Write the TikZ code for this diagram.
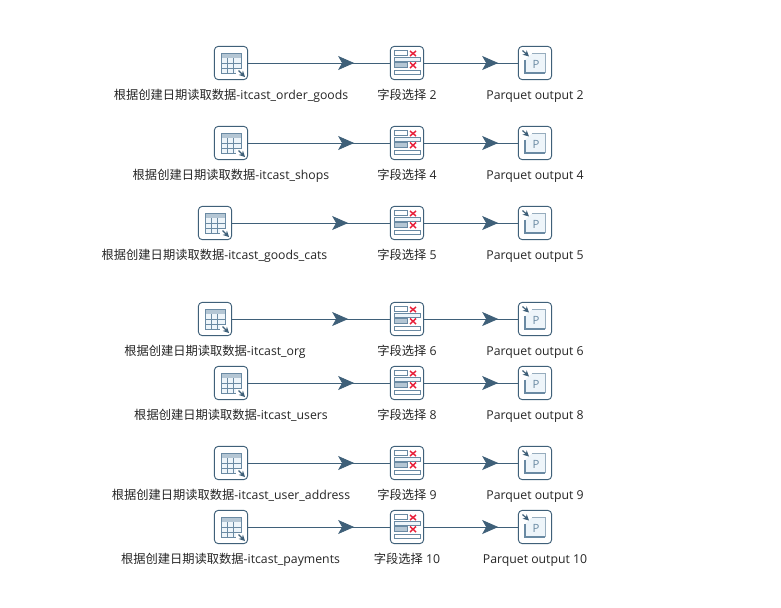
\documentclass[tikz,border=0pt]{standalone}
\usepackage{fontspec}
\setmainfont{Open Sans}
\newfontfamily\cjk{Noto Sans CJK SC}
\usetikzlibrary{arrows.meta,decorations.markings}
\definecolor{kblue}{HTML}{3F6079}
\definecolor{kline}{HTML}{6A8AA3}
\definecolor{kband}{HTML}{B4C6D4}
\definecolor{kfill}{HTML}{EEF5FA}
\definecolor{kred}{HTML}{E8203A}
\tikzset{
  x=0.75pt,y=-0.75pt,
  iconbox/.style={draw=kblue,line width=0.7pt,rounded corners=3pt,fill=white,minimum size=25pt,inner sep=0pt,outer sep=0pt},
  steplabel/.style={font=\fontsize{9.2pt}{11pt}\selectfont,text=black!85,inner sep=0pt,anchor=base},
  hop/.style={draw=kblue,line width=0.6pt,postaction={decorate},decoration={markings,mark=at position #1 with {\arrow{Stealth[length=12pt,width=10.5pt,inset=3pt,color=kblue]}}}},
  iconline/.style={draw=kline,line width=0.75pt}
}
\newcommand{\srcicon}[1]{%
  \begin{scope}[shift={(#1)}]
    \fill[kfill] (-10,-10) rectangle (10,10);
    \fill[kband] (-10,-10) rectangle (10,-5);
    \draw[iconline,line width=0.5pt] (-10,0) -- (10,0) (-10,5) -- (10,5) (-4,-5) -- (-4,10) (2,-5) -- (2,10);
    \draw[iconline] (-10,-10) rectangle (10,10);
    \fill[white] (5,6) rectangle (14.5,14.5);
    \draw[kblue,line width=0.9pt,-{Stealth[length=4.5pt,width=4.5pt]}] (7.5,7.5) -- (14,14);
  \end{scope}}
\newcommand{\selicon}[1]{%
  \begin{scope}[shift={(#1)}]
    \draw[iconline,fill=white] (-13,-12.5) rectangle (0,-8);
    \draw[iconline,fill=kfill] (-13,-5.5) rectangle (13,-1.5);
    \draw[iconline,fill=kband] (-13,-0.5) rectangle (0,4);
    \draw[iconline,fill=white] (-13,7.5) rectangle (13,11.5);
    \draw[kred,line width=1.1pt] (3,-12) -- (9,-7) (9,-12) -- (3,-7) (3,-0.5) -- (9,5) (9,-0.5) -- (3,5);
  \end{scope}}
\newcommand{\outicon}[1]{%
  \begin{scope}[shift={(#1)}]
    \fill[kfill] (-3,-9.5) -- (10,-9.5) -- (10,10) -- (-10,10) -- (-10,-3) -- cycle;
    \draw[kline!70,line width=0.5pt] (-3,-9.5) -- (10,-9.5) -- (10,10);
    \draw[kline,line width=1pt] (10,10) -- (-10,10) -- (-10,-3);
    \draw[kblue,line width=0.9pt,-{Stealth[length=4.5pt,width=4.5pt]}] (-12.5,-12.5) -- (-6,-6.5);
    \node[text=kline,font=\fontsize{8.5pt}{9pt}\selectfont,inner sep=0pt] at (1,1.5) {P};
  \end{scope}}
\begin{document}
\begin{tikzpicture}
\useasboundingbox (0,0) rectangle (781,607);
\fill[white] (0,0) rectangle (781,607);
\foreach \id/\sx/\yy/\lx/\src/\n/\frac in {
  a/231/63/231/itcast\_order\_goods/2/0.746,
  b/231/143/231/itcast\_shops/4/0.746,
  c/215/223/214.5/itcast\_goods\_cats/5/0.734,
  d/215/319/215/itcast\_org/6/0.734,
  e/231/383/231/itcast\_users/8/0.746,
  f/231/463/231/itcast\_user\_address/9/0.746,
  g/231/527/230.5/itcast\_payments/10/0.746}{
  \node[iconbox] (s\id) at (\sx,\yy) {};
  \node[iconbox] (m\id) at (407,\yy) {};
  \node[iconbox] (o\id) at (535,\yy) {};
  \srcicon{s\id}
  \selicon{m\id}
  \outicon{o\id}
  \draw[hop=\frac] (s\id) -- (m\id);
  \draw[hop=0.787] (m\id) -- (o\id);
  \node[steplabel] (ls\id) at (\lx,\yy+36.5) {{\cjk 根据创建日期读取数据}-\src};
  \node[steplabel] (lm\id) at (407,\yy+36.5) {{\cjk 字段选择} \n};
  \node[steplabel] (lo\id) at (535,\yy+36.5) {Parquet output \n};
}
\end{tikzpicture}
\end{document}
